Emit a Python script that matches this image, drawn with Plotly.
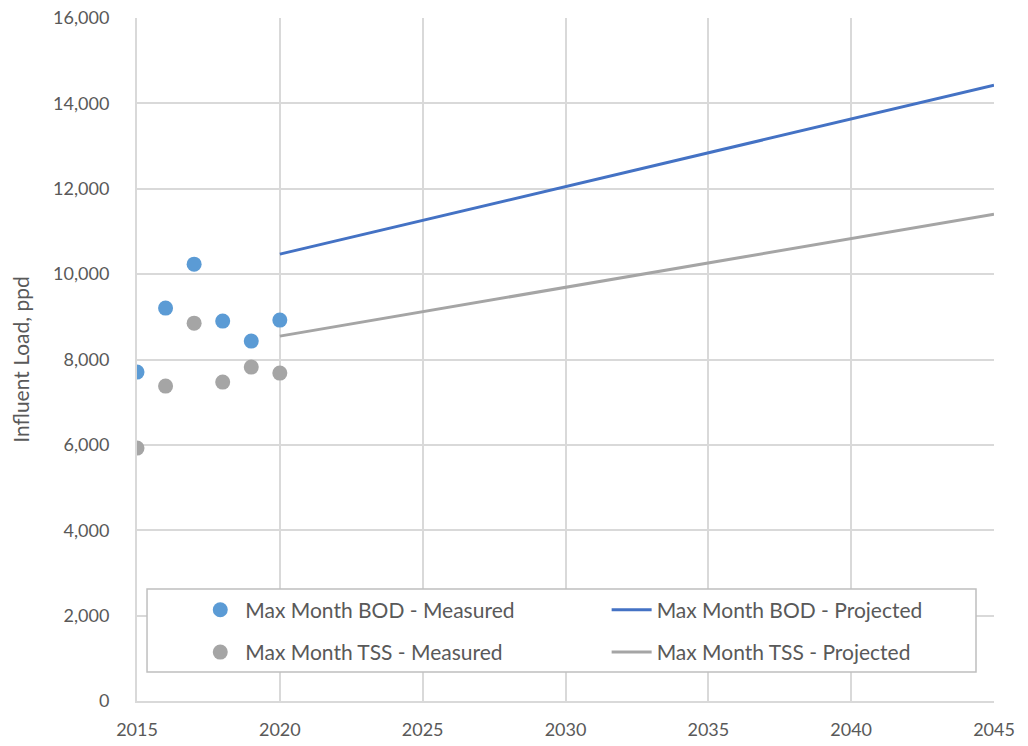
import plotly.graph_objects as go

# Measured maximum-month loads (ppd)
measured_years = [2015, 2016, 2017, 2018, 2019, 2020]
bod_measured = [7705, 9204, 10234, 8899, 8431, 8923]
tss_measured = [5925, 7377, 8852, 7470, 7822, 7681]

# Projected maximum-month loads (ppd)
projected_years = [2020, 2045]
bod_projected = [10468, 14426]
tss_projected = [8548, 11405]

x_ticks = [2015, 2020, 2025, 2030, 2035, 2040, 2045]
y_ticks = [0, 2000, 4000, 6000, 8000, 10000, 12000, 14000, 16000]

FONT = "Lato, 'Open Sans', sans-serif"
TEXT = "#595959"
GRID = "#d9d9d9"

fig = go.Figure()
fig.add_trace(go.Scatter(
    x=measured_years, y=bod_measured, mode="markers",
    name="Max Month BOD - Measured", legend="legend", legendgroup="a",
    marker=dict(color="#5B9BD5", size=15),
))
fig.add_trace(go.Scatter(
    x=measured_years, y=tss_measured, mode="markers",
    name="Max Month TSS - Measured", legend="legend", legendgroup="b",
    marker=dict(color="#A5A5A5", size=15),
))
fig.add_trace(go.Scatter(
    x=projected_years, y=bod_projected, mode="lines",
    name="Max Month BOD - Projected", legend="legend2", legendgroup="c",
    line=dict(color="#4472C4", width=3),
))
fig.add_trace(go.Scatter(
    x=projected_years, y=tss_projected, mode="lines",
    name="Max Month TSS - Projected", legend="legend2", legendgroup="d",
    line=dict(color="#A5A5A5", width=3),
))

legend_style = dict(
    orientation="v", yanchor="top", xanchor="left",
    bgcolor="rgba(0,0,0,0)", borderwidth=0,
    font=dict(family=FONT, color=TEXT, size=21),
    tracegroupgap=12, itemwidth=40,
)

fig.update_layout(
    width=1028, height=746,
    margin=dict(l=137, r=34, t=18, b=45),
    paper_bgcolor="white", plot_bgcolor="white",
    font=dict(family=FONT, color=TEXT, size=18),
    showlegend=True,
    legend=dict(x=0.068, y=0.163, **legend_style),
    legend2=dict(x=0.548, y=0.163, **legend_style),
    shapes=[dict(
        type="rect", xref="paper", yref="paper",
        x0=0.0117, x1=0.979, y0=0.0425, y1=0.164,
        fillcolor="white", line=dict(color="#bfbfbf", width=1.5),
        layer="above",
    )],
    xaxis=dict(
        range=[2015, 2045], tickvals=x_ticks,
        ticktext=[str(v) for v in x_ticks],
        showgrid=True, gridcolor=GRID, gridwidth=2,
        showline=True, linecolor=GRID, linewidth=2,
        zeroline=False, ticks="", ticklabelstandoff=11,
        tickfont=dict(size=18), automargin=False,
    ),
    yaxis=dict(
        range=[0, 16000], tickvals=y_ticks,
        ticktext=[f"{v:,}" for v in y_ticks],
        showgrid=True, gridcolor=GRID, gridwidth=2,
        showline=True, linecolor=GRID, linewidth=2,
        zeroline=False, ticks="", ticklabelstandoff=22,
        tickfont=dict(size=18), automargin=False,
        title=dict(text="Influent Load, ppd", font=dict(size=21, color=TEXT), standoff=18),
    ),
)

fig.write_html("out.html")
